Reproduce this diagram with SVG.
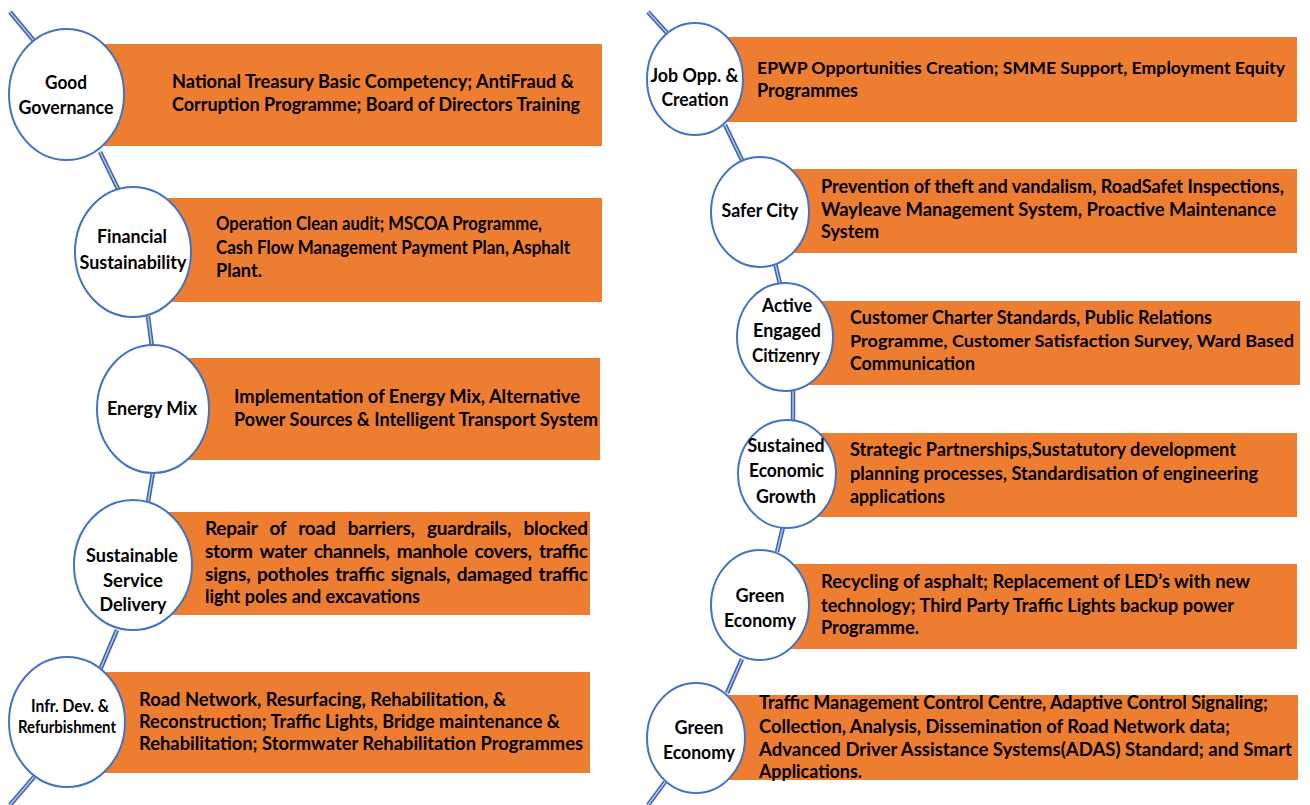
<svg xmlns="http://www.w3.org/2000/svg" width="1310" height="805" viewBox="0 0 1310 805">
<style>
.box{fill:#ED7D31;}
.node{fill:#FFFFFF;stroke:#4472C4;stroke-width:2;}
.c1{fill:none;stroke:#3F64B0;stroke-width:4.5;stroke-linecap:butt;}
.c2{fill:none;stroke:#B4C7E7;stroke-width:1.4;stroke-linecap:butt;}
text{font-family:Lato,"Liberation Sans",sans-serif;font-weight:bold;fill:#000000;}
.t{font-size:19px;}
.tl{font-size:17px;}
.n{font-size:19px;text-anchor:middle;}
.ns{font-size:16.5px;text-anchor:middle;}
</style>
<rect width="1310" height="805" fill="#FFFFFF"/>
<g id="boxes">
<rect class="box" x="66" y="44" width="536" height="102"/>
<rect class="box" x="133" y="198" width="469" height="104"/>
<rect class="box" x="153" y="358" width="447" height="102"/>
<rect class="box" x="133" y="512" width="457" height="103"/>
<rect class="box" x="67" y="672" width="523" height="101"/>
<rect class="box" x="695" y="37" width="602" height="85"/>
<rect class="box" x="760" y="169" width="537" height="84"/>
<rect class="box" x="786" y="301" width="514" height="84"/>
<rect class="box" x="787" y="433" width="510" height="84"/>
<rect class="box" x="760" y="564" width="537" height="85"/>
<rect class="box" x="696" y="695" width="602" height="85"/>
</g>
<g id="connectors">
<path class="c1" d="M10,12 L35,42 M100,152 L118,189 M148,316 L152,347 M153,472 L148,502 M117,630 L100,670 M34,777 L10,805 M648,12 L667,33 M725,125 L742,160 M775,263 L780,284 M793,390 L793,421 M783,527 L777,552 M742,659 L727,693 M665,782 L648,805"/>
<path class="c2" d="M10,12 L35,42 M100,152 L118,189 M148,316 L152,347 M153,472 L148,502 M117,630 L100,670 M34,777 L10,805 M648,12 L667,33 M725,125 L742,160 M775,263 L780,284 M793,390 L793,421 M783,527 L777,552 M742,659 L727,693 M665,782 L648,805"/>
</g>
<g id="n1">
<ellipse class="node" cx="66.5" cy="94.5" rx="57.5" ry="65.5"/>
<text class="n" x="66" y="89" textLength="42" lengthAdjust="spacingAndGlyphs">Good</text>
<text class="n" x="66" y="114" textLength="95" lengthAdjust="spacingAndGlyphs">Governance</text>
<text class="t" x="172" y="88" textLength="402" lengthAdjust="spacingAndGlyphs">National Treasury Basic Competency; AntiFraud &amp;</text>
<text class="t" x="172" y="111" textLength="408" lengthAdjust="spacingAndGlyphs">Corruption Programme; Board of Directors Training</text>
</g>
<g id="n2">
<ellipse class="node" cx="133" cy="252" rx="58" ry="65"/>
<text class="n" x="132" y="243" textLength="70" lengthAdjust="spacingAndGlyphs">Financial</text>
<text class="n" x="133" y="269" textLength="107" lengthAdjust="spacingAndGlyphs">Sustainability</text>
<text class="t" x="216" y="230" textLength="326" lengthAdjust="spacingAndGlyphs">Operation Clean audit; MSCOA Programme,</text>
<text class="t" x="216" y="254" textLength="354" lengthAdjust="spacingAndGlyphs">Cash Flow Management Payment Plan, Asphalt</text>
<text class="t" x="216" y="277" textLength="46" lengthAdjust="spacingAndGlyphs">Plant.</text>
</g>
<g id="n3">
<ellipse class="node" cx="153" cy="409" rx="56" ry="64"/>
<text class="n" x="152" y="415" textLength="90" lengthAdjust="spacingAndGlyphs">Energy Mix</text>
<text class="t" x="234" y="403" textLength="346" lengthAdjust="spacingAndGlyphs">Implementation of Energy Mix, Alternative</text>
<text class="t" x="234" y="426" textLength="364" lengthAdjust="spacingAndGlyphs">Power Sources &amp; Intelligent Transport System</text>
</g>
<g id="n4">
<ellipse class="node" cx="133" cy="565" rx="59" ry="65"/>
<text class="n" x="132" y="562" textLength="92" lengthAdjust="spacingAndGlyphs">Sustainable</text>
<text class="n" x="133" y="587" textLength="60" lengthAdjust="spacingAndGlyphs">Service</text>
<text class="n" x="133" y="611" textLength="67" lengthAdjust="spacingAndGlyphs">Delivery</text>
<text class="t" x="205" y="535" textLength="383" lengthAdjust="spacing" style="word-spacing:8px">Repair of road barriers, guardrails, blocked</text>
<text class="t" x="205" y="558" textLength="383" lengthAdjust="spacing" style="word-spacing:3px">storm water channels, manhole covers, traffic</text>
<text class="t" x="205" y="581" textLength="383" lengthAdjust="spacing" style="word-spacing:2px">signs, potholes traffic signals, damaged traffic</text>
<text class="t" x="205" y="603" textLength="215" lengthAdjust="spacingAndGlyphs">light poles and excavations</text>
</g>
<g id="n5">
<ellipse class="node" cx="67" cy="722" rx="58" ry="65"/>
<text class="ns" x="70" y="712" textLength="78" lengthAdjust="spacingAndGlyphs">Infr. Dev. &amp;</text>
<text class="ns" x="67" y="733" textLength="98" lengthAdjust="spacingAndGlyphs">Refurbishment</text>
<text class="t" x="139" y="706" textLength="367" lengthAdjust="spacingAndGlyphs">Road Network, Resurfacing, Rehabilitation, &amp;</text>
<text class="t" x="139" y="728" textLength="421" lengthAdjust="spacingAndGlyphs">Reconstruction; Traffic Lights, Bridge maintenance &amp;</text>
<text class="t" x="139" y="750" textLength="444" lengthAdjust="spacingAndGlyphs">Rehabilitation; Stormwater Rehabilitation Programmes</text>
</g>
<g id="n6">
<ellipse class="node" cx="695" cy="79" rx="48" ry="56"/>
<text class="n" x="694.5" y="82" textLength="88" lengthAdjust="spacingAndGlyphs">Job Opp. &amp;</text>
<text class="n" x="695" y="106" textLength="67" lengthAdjust="spacingAndGlyphs">Creation</text>
<text class="tl" x="757" y="74" textLength="528" lengthAdjust="spacingAndGlyphs">EPWP Opportunities Creation; SMME Support, Employment Equity</text>
<text class="t" x="757" y="97" textLength="101" lengthAdjust="spacingAndGlyphs">Programmes</text>
</g>
<g id="n7">
<ellipse class="node" cx="760" cy="212" rx="49" ry="55"/>
<text class="n" x="760" y="217" textLength="77" lengthAdjust="spacingAndGlyphs">Safer City</text>
<text class="t" x="821" y="193" textLength="463" lengthAdjust="spacingAndGlyphs">Prevention of theft and vandalism, RoadSafet Inspections,</text>
<text class="t" x="821" y="216" textLength="455" lengthAdjust="spacingAndGlyphs">Wayleave Management System, Proactive Maintenance</text>
<text class="t" x="821" y="238" textLength="58" lengthAdjust="spacingAndGlyphs">System</text>
</g>
<g id="n8">
<ellipse class="node" cx="785" cy="337" rx="48" ry="54"/>
<text class="n" x="787" y="312" textLength="50" lengthAdjust="spacingAndGlyphs">Active</text>
<text class="n" x="787" y="337" textLength="68" lengthAdjust="spacingAndGlyphs">Engaged</text>
<text class="n" x="786" y="362" textLength="68" lengthAdjust="spacingAndGlyphs">Citizenry</text>
<text class="t" x="850" y="324" textLength="362" lengthAdjust="spacingAndGlyphs">Customer Charter Standards, Public Relations</text>
<text class="tl" x="850" y="347" textLength="444" lengthAdjust="spacingAndGlyphs">Programme, Customer Satisfaction Survey, Ward Based</text>
<text class="t" x="850" y="370" textLength="125" lengthAdjust="spacingAndGlyphs">Communication</text>
</g>
<g id="n9">
<ellipse class="node" cx="787" cy="474" rx="49" ry="54"/>
<text class="n" x="786" y="452" textLength="77" lengthAdjust="spacingAndGlyphs">Sustained</text>
<text class="n" x="786.5" y="477" textLength="75" lengthAdjust="spacingAndGlyphs">Economic</text>
<text class="n" x="786" y="503" textLength="60" lengthAdjust="spacingAndGlyphs">Growth</text>
<text class="t" x="850" y="456" textLength="386" lengthAdjust="spacingAndGlyphs">Strategic Partnerships,Sustatutory development</text>
<text class="t" x="850" y="480" textLength="408" lengthAdjust="spacingAndGlyphs">planning processes, Standardisation of engineering</text>
<text class="t" x="850" y="503" textLength="95" lengthAdjust="spacingAndGlyphs">applications</text>
</g>
<g id="n10">
<ellipse class="node" cx="760" cy="605" rx="49" ry="55"/>
<text class="n" x="760" y="602" textLength="49" lengthAdjust="spacingAndGlyphs">Green</text>
<text class="n" x="760" y="627" textLength="72" lengthAdjust="spacingAndGlyphs">Economy</text>
<text class="t" x="821" y="588" textLength="429" lengthAdjust="spacingAndGlyphs">Recycling of asphalt; Replacement of LED’s with new</text>
<text class="t" x="821" y="612" textLength="413" lengthAdjust="spacingAndGlyphs">technology; Third Party Traffic Lights backup power</text>
<text class="t" x="821" y="634" textLength="98" lengthAdjust="spacingAndGlyphs">Programme.</text>
</g>
<g id="n11">
<ellipse class="node" cx="696" cy="738" rx="49" ry="55"/>
<text class="n" x="699" y="734" textLength="49" lengthAdjust="spacingAndGlyphs">Green</text>
<text class="n" x="699" y="759" textLength="72" lengthAdjust="spacingAndGlyphs">Economy</text>
<text class="t" x="759" y="709" textLength="509" lengthAdjust="spacingAndGlyphs">Traffic Management Control Centre, Adaptive Control Signaling;</text>
<text class="t" x="759" y="733" textLength="471" lengthAdjust="spacingAndGlyphs">Collection, Analysis, Dissemination of Road Network data;</text>
<text class="t" x="759" y="756" textLength="533" lengthAdjust="spacingAndGlyphs">Advanced Driver Assistance Systems(ADAS) Standard; and Smart</text>
<text class="t" x="759" y="778" textLength="103" lengthAdjust="spacingAndGlyphs">Applications.</text>
</g>
</svg>
